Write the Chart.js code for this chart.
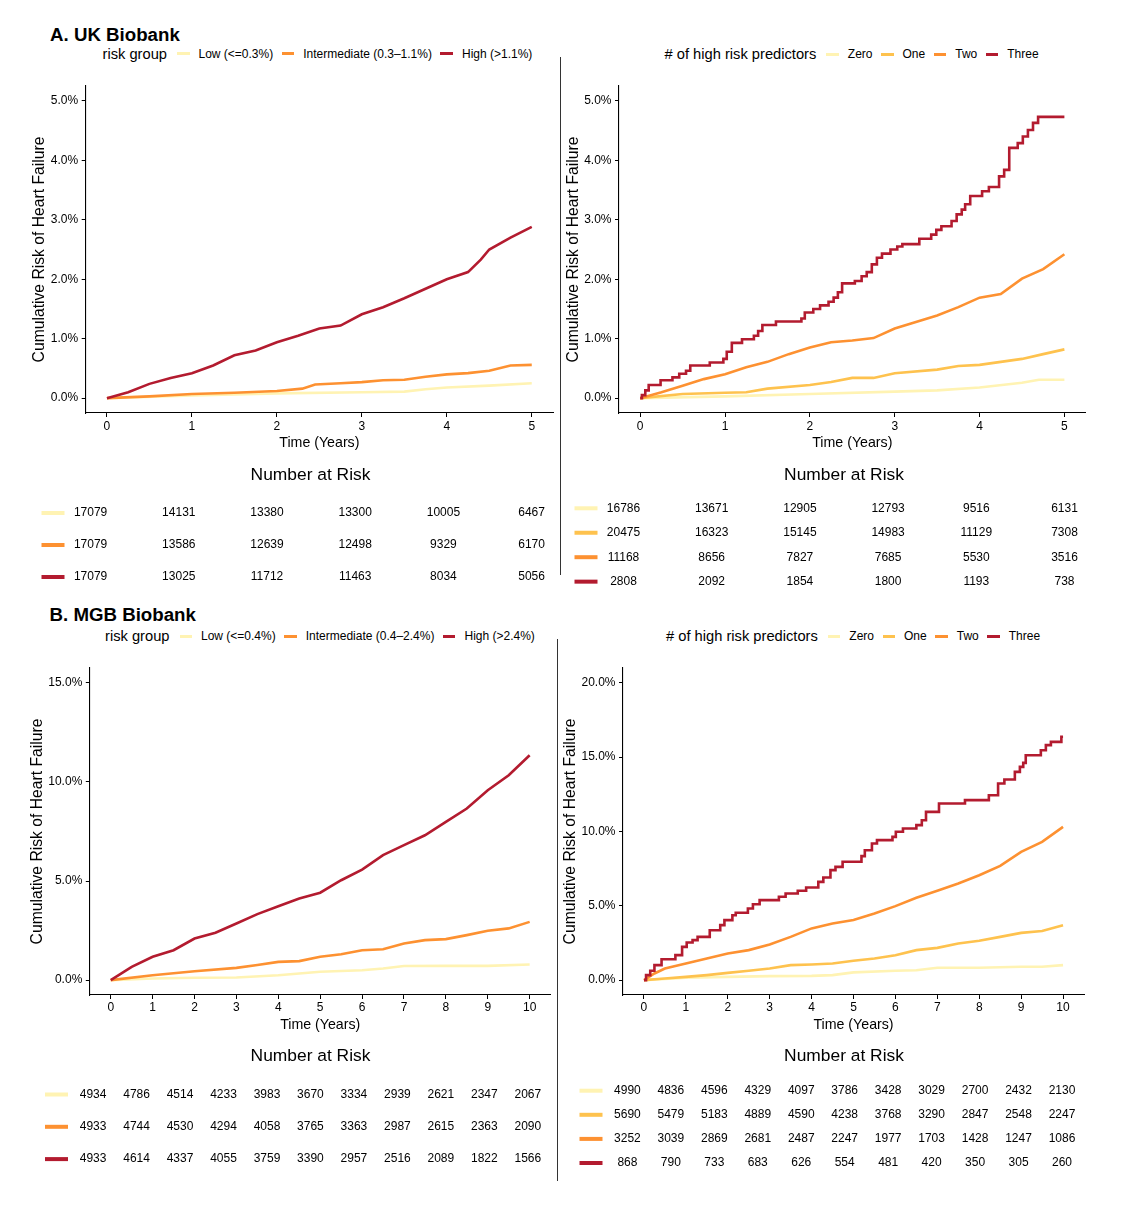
<!DOCTYPE html>
<html><head><meta charset="utf-8">
<script src="https://cdn.jsdelivr.net/npm/chart.js@4.4.1/dist/chart.umd.min.js"></script>
<style>
body{margin:0;background:#fff;width:1132px;height:1230px;position:relative;overflow:hidden;font-family:"Liberation Sans",Arial,sans-serif;color:#000;}
.abs{position:absolute;}
.ptitle{position:absolute;font-weight:bold;font-size:18.7px;line-height:1;white-space:nowrap;}
.legend{position:absolute;display:flex;align-items:center;white-space:nowrap;height:20px;}
.legend .lt{font-size:14.7px;margin-right:10px;}
.legend .sw{display:inline-block;width:12.5px;height:3px;margin-right:9px;}
.legend .li{font-size:12px;margin-right:8.5px;}
.sep{position:absolute;width:1px;background:#333;}
</style></head><body>
<div class="ptitle" style="left:50px;top:26px;">A. UK Biobank</div>
<div class="ptitle" style="left:49.5px;top:606px;">B. MGB Biobank</div>
<div class="sep" style="left:560px;top:57px;height:518px;"></div>
<div class="sep" style="left:557px;top:639px;height:542px;"></div>
<script>
// ---------- DATA ----------
const riskGroupUK = ['Low (<=0.3%)', 'Intermediate (0.3\u20131.1%)', 'High (>1.1%)'];
const riskGroupMGB = ['Low (<=0.4%)', 'Intermediate (0.4\u20132.4%)', 'High (>2.4%)'];
const predictorGroups = ['Zero', 'One', 'Two', 'Three'];

const ticksUKx = [0, 1, 2, 3, 4, 5];
const ticksMGBx = [0, 1, 2, 3, 4, 5, 6, 7, 8, 9, 10];
const ticksUKy = [0, 1, 2, 3, 4, 5];
const ticksMGBLeftY = [0, 5, 10, 15];
const ticksMGBRightY = [0, 5, 10, 15, 20];

// UK Biobank, risk group: [time (years), cumulative risk (%)]
const ukLow = [[0,0],[1,0.045],[2,0.08],[3,0.10],[3.5,0.11],[3.75,0.15],[4,0.18],[4.5,0.21],[5,0.25]];
const ukIntermediate = [[0,0],[0.5,0.03],[1,0.07],[1.5,0.09],[2,0.12],[2.3,0.16],[2.45,0.23],[2.75,0.25],[3,0.27],[3.25,0.30],[3.5,0.31],[3.75,0.36],[4,0.40],[4.25,0.42],[4.5,0.46],[4.75,0.55],[5,0.56]];
const ukHigh = [[0,0],[0.25,0.10],[0.5,0.24],[0.75,0.34],[1,0.42],[1.25,0.55],[1.5,0.72],[1.75,0.80],[2,0.94],[2.25,1.05],[2.5,1.17],[2.75,1.22],[3,1.41],[3.25,1.53],[3.5,1.68],[3.75,1.84],[4,2.00],[4.25,2.12],[4.4,2.33],[4.5,2.50],[4.75,2.70],[5,2.88]];

// UK Biobank, # of high risk predictors
const ukZero = [[0,0],[1,0.03],[2,0.07],[3,0.11],[3.5,0.13],[4,0.18],[4.5,0.26],[4.7,0.31],[5,0.31]];
const ukOne = [[0,0],[0.5,0.07],[1,0.09],[1.25,0.10],[1.5,0.16],[2,0.22],[2.25,0.27],[2.5,0.34],[2.75,0.34],[3,0.42],[3.5,0.48],[3.75,0.54],[4,0.56],[4.25,0.61],[4.5,0.66],[4.75,0.74],[5,0.82]];
const ukTwo = [[0,0],[0.25,0.10],[0.5,0.21],[0.75,0.32],[1,0.40],[1.25,0.52],[1.5,0.61],[1.75,0.74],[2,0.85],[2.25,0.94],[2.5,0.97],[2.75,1.01],[3,1.17],[3.25,1.28],[3.5,1.39],[3.75,1.53],[4,1.69],[4.25,1.75],[4.5,2.01],[4.75,2.17],[5,2.42]];
const ukThree = [[0,0],[0.02,0.05],[0.06,0.13],[0.10,0.22],[0.24,0.30],[0.38,0.35],[0.46,0.41],[0.54,0.46],[0.59,0.55],[0.82,0.60],[0.98,0.66],[1.02,0.78],[1.08,0.93],[1.20,0.99],[1.34,1.05],[1.39,1.13],[1.44,1.23],[1.60,1.29],[1.90,1.34],[1.94,1.44],[2.04,1.50],[2.12,1.56],[2.22,1.62],[2.28,1.69],[2.33,1.78],[2.38,1.93],[2.53,1.97],[2.61,2.05],[2.67,2.12],[2.73,2.25],[2.79,2.36],[2.85,2.43],[2.95,2.50],[3.03,2.55],[3.09,2.59],[3.29,2.68],[3.43,2.75],[3.49,2.83],[3.55,2.89],[3.67,2.98],[3.73,3.09],[3.79,3.17],[3.83,3.26],[3.89,3.40],[4.03,3.48],[4.11,3.55],[4.23,3.73],[4.29,3.84],[4.35,4.21],[4.45,4.29],[4.51,4.40],[4.57,4.51],[4.63,4.63],[4.69,4.73],[5,4.73]];

// MGB Biobank, risk group
const mgbLow = [[0,0],[1,0.08],[2,0.12],[3,0.13],[4,0.25],[5,0.42],[6,0.50],[6.5,0.59],[7,0.71],[8,0.72],[9,0.72],[10,0.79]];
const mgbIntermediate = [[0,0],[1,0.25],[2,0.45],[3,0.62],[3.5,0.76],[4,0.92],[4.5,0.96],[5,1.18],[5.5,1.31],[6,1.51],[6.5,1.56],[7,1.85],[7.5,2.02],[8,2.07],[8.5,2.27],[9,2.49],[9.5,2.61],[10,2.94]];
const mgbHigh = [[0,0],[0.5,0.67],[1,1.18],[1.5,1.51],[2,2.10],[2.5,2.39],[3,2.86],[3.5,3.33],[4,3.73],[4.5,4.12],[5,4.41],[5.5,5.04],[6,5.58],[6.5,6.31],[7,6.81],[7.5,7.31],[8,7.99],[8.5,8.66],[9,9.58],[9.5,10.34],[10,11.35]];

// MGB Biobank, # of high risk predictors
const mgbZero = [[0,0],[1,0.16],[2,0.22],[3,0.27],[4,0.29],[4.5,0.34],[5,0.52],[6,0.63],[6.5,0.67],[7,0.83],[8,0.83],[9,0.90],[9.5,0.90],[10,1.01]];
const mgbOne = [[0,0],[0.5,0.11],[1,0.22],[1.5,0.34],[2,0.49],[2.5,0.63],[3,0.78],[3.5,1.01],[4,1.05],[4.5,1.12],[5,1.30],[5.5,1.46],[6,1.68],[6.5,2.02],[7,2.17],[7.5,2.47],[8,2.65],[8.5,2.91],[9,3.18],[9.5,3.30],[10,3.70]];
const mgbTwo = [[0,0],[0.25,0.45],[0.5,0.78],[1,1.12],[1.5,1.46],[2,1.79],[2.5,2.02],[3,2.40],[3.5,2.91],[4,3.48],[4.5,3.81],[5,4.04],[5.5,4.48],[6,4.98],[6.5,5.54],[7,6.01],[7.5,6.50],[8,7.06],[8.5,7.69],[9,8.63],[9.5,9.30],[10,10.31]];
const mgbThree = [[0,0],[0.05,0.34],[0.15,0.63],[0.25,1.01],[0.42,1.41],[0.75,1.68],[0.91,2.24],[1.02,2.53],[1.16,2.69],[1.28,2.91],[1.57,3.36],[1.82,3.70],[1.92,4.04],[2.11,4.37],[2.19,4.53],[2.48,4.82],[2.60,5.11],[2.76,5.38],[3.22,5.61],[3.38,5.83],[3.67,6.01],[3.87,6.23],[4.16,6.61],[4.28,6.91],[4.45,7.40],[4.57,7.62],[4.74,7.96],[5.19,8.34],[5.27,8.74],[5.44,9.19],[5.56,9.42],[5.93,9.64],[6.01,9.98],[6.18,10.20],[6.50,10.43],[6.63,10.76],[6.73,11.32],[7.04,11.88],[7.66,12.11],[8.23,12.44],[8.45,13.23],[8.60,13.50],[8.85,14.01],[8.97,14.35],[9.05,14.62],[9.11,15.13],[9.47,15.47],[9.59,15.81],[9.71,16.03],[9.96,16.37],[10,16.37]];

// Number at risk tables
const ukRiskLow = [17079, 14131, 13380, 13300, 10005, 6467];
const ukRiskIntermediate = [17079, 13586, 12639, 12498, 9329, 6170];
const ukRiskHigh = [17079, 13025, 11712, 11463, 8034, 5056];
const ukRiskZero = [16786, 13671, 12905, 12793, 9516, 6131];
const ukRiskOne = [20475, 16323, 15145, 14983, 11129, 7308];
const ukRiskTwo = [11168, 8656, 7827, 7685, 5530, 3516];
const ukRiskThree = [2808, 2092, 1854, 1800, 1193, 738];
const mgbRiskLow = [4934, 4786, 4514, 4233, 3983, 3670, 3334, 2939, 2621, 2347, 2067];
const mgbRiskIntermediate = [4933, 4744, 4530, 4294, 4058, 3765, 3363, 2987, 2615, 2363, 2090];
const mgbRiskHigh = [4933, 4614, 4337, 4055, 3759, 3390, 2957, 2516, 2089, 1822, 1566];
const mgbRiskZero = [4990, 4836, 4596, 4329, 4097, 3786, 3428, 3029, 2700, 2432, 2130];
const mgbRiskOne = [5690, 5479, 5183, 4889, 4590, 4238, 3768, 3290, 2847, 2548, 2247];
const mgbRiskTwo = [3252, 3039, 2869, 2681, 2487, 2247, 1977, 1703, 1428, 1247, 1086];
const mgbRiskThree = [868, 790, 733, 683, 626, 554, 481, 420, 350, 305, 260];

// ---------- STYLE ----------
const FONT = '"Liberation Sans", Arial, sans-serif';
const C_ZERO = '#FFF3B3', C_ONE = '#FEC24E', C_TWO = '#FD9131', C_THREE = '#B31B2F';
const riskColors = [C_ZERO, C_TWO, C_THREE];
const predColors = [C_ZERO, C_ONE, C_TWO, C_THREE];

function legend(left, cy, title, labels, colors) {
  const d = document.createElement('div');
  d.className = 'legend';
  d.style.left = left + 'px';
  d.style.top = (cy - 10) + 'px';
  const t = document.createElement('span'); t.className = 'lt'; t.textContent = title; d.appendChild(t);
  labels.forEach((l, i) => {
    const s = document.createElement('span'); s.className = 'sw'; s.style.background = colors[i]; d.appendChild(s);
    const x = document.createElement('span'); x.className = 'li'; x.textContent = l; d.appendChild(x);
  });
  document.body.appendChild(d);
}

function makeCanvas(box) {
  const div = document.createElement('div');
  div.className = 'abs';
  div.style.left = box.left + 'px'; div.style.top = box.top + 'px';
  div.style.width = box.width + 'px'; div.style.height = box.height + 'px';
  const cv = document.createElement('canvas');
  div.appendChild(cv);
  document.body.appendChild(div);
  return cv;
}

function kmChart(box, cfg) {
  const cv = makeCanvas(box);
  const n = cfg.series.length;
  new Chart(cv, {
    type: 'line',
    data: {
      datasets: cfg.series.map((s, i) => ({
        label: s.label,
        data: s.points.map(p => ({x: p[0], y: p[1]})),
        borderColor: s.color,
        borderWidth: 2.6,
        pointRadius: 0,
        fill: false,
        tension: 0,
        stepped: s.stepped ? 'before' : false,
        order: n - i
      }))
    },
    options: {
      responsive: true, maintainAspectRatio: false, animation: false,
      layout: {padding: {top: 11, right: cfg.padRight, left: 0, bottom: 0}},
      plugins: {legend: {display: false}, tooltip: {enabled: false}},
      scales: {
        x: {
          type: 'linear', min: cfg.xMin, max: cfg.xMax,
          afterBuildTicks: s => { s.ticks = cfg.xTicks.map(v => ({value: v})); },
          afterFit: s => { s.height = 47; },
          ticks: {font: {family: FONT, size: 12}, color: '#000', padding: cfg.xTickPad, autoSkip: false, maxRotation: 0, callback: v => String(v)},
          grid: {display: true, drawOnChartArea: false, drawTicks: true, tickLength: 4, color: '#000', lineWidth: 1},
          border: {display: true, color: '#000', width: 1.1},
          title: {display: true, text: 'Time (Years)', font: {family: FONT, size: 14.2}, color: '#000', padding: {top: 0, bottom: cfg.xTitlePad}}
        },
        y: {
          type: 'linear', min: cfg.yMin, max: cfg.yMax,
          afterBuildTicks: s => { s.ticks = cfg.yTicks.map(v => ({value: v})); },
          afterFit: s => { s.width = cfg.yWidth; },
          ticks: {font: {family: FONT, size: 12}, color: '#000', padding: 3.5, callback: v => Number(v).toFixed(1) + '%'},
          grid: {display: true, drawOnChartArea: false, drawTicks: true, tickLength: 4, color: '#000', lineWidth: 1},
          border: {display: true, color: '#000', width: 1.1},
          title: {display: true, text: 'Cumulative Risk of Heart Failure', font: {family: FONT, size: 15.7}, color: '#000', padding: {top: cfg.yTitlePad, bottom: 0}}
        }
      }
    }
  });
}

function riskTable(box, m, rows) {
  const cv = makeCanvas(box);
  const xMin = -(m.col0 - box.left) / m.colStep, xMax = xMin + box.width / m.colStep;
  const yMin = -(m.row0 - box.top) / m.rowStep, yMax = yMin + box.height / m.rowStep;
  new Chart(cv, {
    type: 'scatter',
    data: {datasets: rows.map((r, ri) => ({data: r.counts.map((c, ci) => ({x: ci, y: ri})), pointRadius: 0, showLine: false}))},
    options: {
      responsive: true, maintainAspectRatio: false, animation: false,
      layout: {padding: 0},
      plugins: {legend: {display: false}, tooltip: {enabled: false}},
      scales: {
        x: {type: 'linear', display: false, min: xMin, max: xMax},
        y: {type: 'linear', display: false, min: yMin, max: yMax, reverse: true}
      }
    },
    plugins: [{
      id: 'riskText',
      afterDatasetsDraw(chart) {
        const ctx = chart.ctx, xs = chart.scales.x, ys = chart.scales.y;
        ctx.save();
        ctx.fillStyle = '#000';
        ctx.textAlign = 'center'; ctx.textBaseline = 'middle';
        ctx.font = '17.4px ' + FONT;
        ctx.fillText('Number at Risk', xs.getPixelForValue((m.titleX - m.col0) / m.colStep), ys.getPixelForValue((m.titleY - m.row0) / m.rowStep));
        ctx.font = '12px ' + FONT;
        rows.forEach((r, ri) => {
          const meta = chart.getDatasetMeta(ri);
          const yPix = ys.getPixelForValue(ri);
          const sx = xs.getPixelForValue((m.swatch - m.col0) / m.colStep);
          ctx.fillStyle = r.color;
          ctx.fillRect(sx - 11.5, yPix - 2, 23, 4);
          ctx.fillStyle = '#000';
          meta.data.forEach((el, ci) => ctx.fillText(String(r.counts[ci]), el.x, el.y));
        });
        ctx.restore();
      }
    }]
  });
}

// ---------- LEGENDS ----------
legend(102.5, 53.5, 'risk group', riskGroupUK, riskColors);
legend(664.5, 54, '# of high risk predictors', predictorGroups, predColors);
legend(105, 636, 'risk group', riskGroupMGB, riskColors);
legend(666, 636, '# of high risk predictors', predictorGroups, predColors);

// ---------- CURVES ----------
kmChart({left: 0, top: 75, width: 560, height: 385}, {
  series: [
    {label: riskGroupUK[0], points: ukLow, color: riskColors[0]},
    {label: riskGroupUK[1], points: ukIntermediate, color: riskColors[1]},
    {label: riskGroupUK[2], points: ukHigh, color: riskColors[2]}
  ],
  xMin: -0.25, xMax: 5.25, xTicks: ticksUKx, yMin: -0.25, yMax: 5.25, yTicks: ticksUKy,
  yWidth: 85.7, padRight: 7, yTitlePad: 30.6, xTitlePad: 8.5, xTickPad: 2.5
});
kmChart({left: 560, top: 75, width: 540, height: 385}, {
  series: [
    {label: predictorGroups[0], points: ukZero, color: predColors[0]},
    {label: predictorGroups[1], points: ukOne, color: predColors[1]},
    {label: predictorGroups[2], points: ukTwo, color: predColors[2]},
    {label: predictorGroups[3], points: ukThree, color: predColors[3], stepped: true}
  ],
  xMin: -0.25, xMax: 5.25, xTicks: ticksUKx, yMin: -0.25, yMax: 5.25, yTicks: ticksUKy,
  yWidth: 59, padRight: 14.4, yTitlePad: 4.1, xTitlePad: 8.5, xTickPad: 2.5
});
kmChart({left: 0, top: 657, width: 560, height: 385}, {
  series: [
    {label: riskGroupMGB[0], points: mgbLow, color: riskColors[0]},
    {label: riskGroupMGB[1], points: mgbIntermediate, color: riskColors[1]},
    {label: riskGroupMGB[2], points: mgbHigh, color: riskColors[2]}
  ],
  xMin: -0.5, xMax: 10.5, xTicks: ticksMGBx, yMin: -0.75, yMax: 15.75, yTicks: ticksMGBLeftY,
  yWidth: 89.8, padRight: 9.4, yTitlePad: 28, xTitlePad: 8.5, xTickPad: 1.5
});
kmChart({left: 560, top: 657, width: 540, height: 385}, {
  series: [
    {label: predictorGroups[0], points: mgbZero, color: predColors[0]},
    {label: predictorGroups[1], points: mgbOne, color: predColors[1]},
    {label: predictorGroups[2], points: mgbTwo, color: predColors[2]},
    {label: predictorGroups[3], points: mgbThree, color: predColors[3], stepped: true}
  ],
  xMin: -0.5, xMax: 10.5, xTicks: ticksMGBx, yMin: -1, yMax: 21, yTicks: ticksMGBRightY,
  yWidth: 63, padRight: 16, yTitlePad: 1.4, xTitlePad: 8.5, xTickPad: 1.5
});

// ---------- RISK TABLES ----------
riskTable({left: 0, top: 460, width: 560, height: 130},
  {col0: 90.6, colStep: 88.2, row0: 513, rowStep: 32, swatch: 53, titleX: 310.5, titleY: 475},
  [{counts: ukRiskLow, color: riskColors[0]}, {counts: ukRiskIntermediate, color: riskColors[1]}, {counts: ukRiskHigh, color: riskColors[2]}]);
riskTable({left: 562, top: 460, width: 538, height: 130},
  {col0: 623.5, colStep: 88.2, row0: 508.3, rowStep: 24.45, swatch: 586, titleX: 844, titleY: 475},
  [{counts: ukRiskZero, color: predColors[0]}, {counts: ukRiskOne, color: predColors[1]}, {counts: ukRiskTwo, color: predColors[2]}, {counts: ukRiskThree, color: predColors[3]}]);
riskTable({left: 0, top: 1040, width: 556, height: 150},
  {col0: 93.1, colStep: 43.47, row0: 1094.5, rowStep: 32.3, swatch: 56.5, titleX: 310.5, titleY: 1056.7},
  [{counts: mgbRiskLow, color: riskColors[0]}, {counts: mgbRiskIntermediate, color: riskColors[1]}, {counts: mgbRiskHigh, color: riskColors[2]}]);
riskTable({left: 559, top: 1040, width: 541, height: 150},
  {col0: 627.4, colStep: 43.46, row0: 1090.7, rowStep: 24.1, swatch: 591, titleX: 844, titleY: 1056.7},
  [{counts: mgbRiskZero, color: predColors[0]}, {counts: mgbRiskOne, color: predColors[1]}, {counts: mgbRiskTwo, color: predColors[2]}, {counts: mgbRiskThree, color: predColors[3]}]);
</script>
</body></html>
